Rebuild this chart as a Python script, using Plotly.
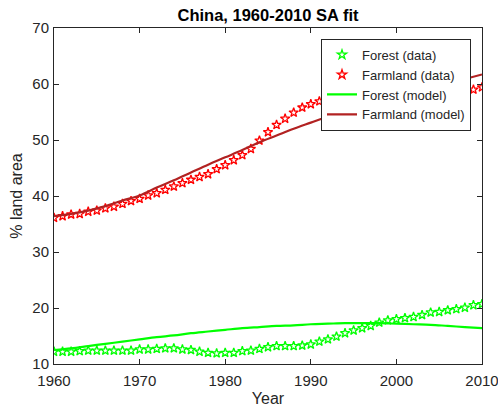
import plotly.graph_objects as go

years = list(range(1960, 2011))

forest_data = [12.2, 12.2, 12.2, 12.3, 12.4, 12.4, 12.4, 12.4, 12.4, 12.4,
               12.6, 12.6, 12.7, 12.8, 12.8, 12.6, 12.5, 12.2, 12.0, 11.9,
               12.0, 12.0, 12.3, 12.4, 12.7, 13.0, 13.2, 13.2, 13.2, 13.3,
               13.5, 14.0, 14.4, 14.9, 15.5, 16.0, 16.4, 16.8, 17.4, 17.8,
               18.0, 18.2, 18.4, 18.75, 19.2, 19.3, 19.6, 19.8, 20.05, 20.5,
               20.7]

farmland_data = [36.1, 36.4, 36.7, 36.8, 37.2, 37.4, 37.8, 38.1, 38.6, 39.1,
                 39.5, 40.1, 40.5, 41.1, 41.7, 42.3, 42.9, 43.4, 43.9, 44.8,
                 45.5, 46.4, 47.3, 48.4, 49.9, 51.4, 52.7, 53.8, 54.9, 55.8,
                 56.4, 56.9, 57.3, 57.6, 57.9, 58.1, 58.3, 58.5, 58.6, 58.7,
                 58.8, 58.8, 58.9, 58.9, 58.9, 58.9, 58.9, 58.9, 58.9, 59.0,
                 59.4]

model_years = list(range(1960, 2011, 2))
forest_model = [12.5, 12.8, 13.2, 13.6, 14.0, 14.4, 14.8, 15.1, 15.5, 15.8,
                16.1, 16.4, 16.6, 16.8, 16.9, 17.1, 17.2, 17.3, 17.3, 17.3,
                17.2, 17.1, 17.0, 16.8, 16.6, 16.4]
farmland_model = [36.4, 36.8, 37.4, 38.2, 39.2, 40.1, 41.5, 42.8, 44.2, 45.6,
                  46.9, 48.2, 49.6, 50.8, 52.0, 53.1, 54.2, 55.2, 56.1, 57.0,
                  57.8, 58.6, 59.4, 60.1, 60.9, 61.7]

x_ticks = [1960, 1970, 1980, 1990, 2000, 2010]
y_ticks = [10, 20, 30, 40, 50, 60, 70]

FONT = "Liberation Sans, Arial, Helvetica, sans-serif"
AX = "#262626"

fig = go.Figure()
fig.add_trace(go.Scatter(x=years, y=forest_data, mode="markers", name="Forest (data)",
                         marker=dict(symbol="star-open", size=7, color="#00ff00",
                                     line=dict(width=1.3, color="#00ff00"))))
fig.add_trace(go.Scatter(x=years, y=farmland_data, mode="markers", name="Farmland (data)",
                         marker=dict(symbol="star-open", size=7, color="#ff0000",
                                     line=dict(width=1.3, color="#ff0000"))))
fig.add_trace(go.Scatter(x=model_years, y=forest_model, mode="lines", name="Forest (model)",
                         line=dict(color="#00ff00", width=2.2, shape="spline")))
fig.add_trace(go.Scatter(x=model_years, y=farmland_model, mode="lines", name="Farmland (model)",
                         line=dict(color="#b22222", width=2.2, shape="spline")))

axis_common = dict(showline=True, linecolor=AX, linewidth=1, mirror="ticks",
                   ticks="inside", ticklen=5, tickcolor=AX, tickwidth=1,
                   showgrid=False, zeroline=False, ticklabeloverflow="allow",
                   automargin=False,
                   tickfont=dict(family=FONT, size=15, color=AX))

fig.update_xaxes(range=[1960, 2010], tickvals=x_ticks, ticktext=[str(v) for v in x_ticks],
                 ticklabelstandoff=3,
                 title=dict(text="Year", font=dict(family=FONT, size=16, color=AX), standoff=4),
                 **axis_common)
fig.update_yaxes(range=[10, 70], tickvals=y_ticks, ticktext=[str(v) for v in y_ticks],
                 ticklabelstandoff=1,
                 title=dict(text="% land area", font=dict(family=FONT, size=16, color=AX), standoff=5),
                 **axis_common)

fig.update_layout(
    width=498, height=413,
    margin=dict(l=54, r=16, t=28, b=49),
    paper_bgcolor="white", plot_bgcolor="white",
    title=dict(text="<b>China, 1960-2010 SA fit</b>", x=(54 + 482) / 2 / 498, xanchor="center",
               y=1 - 15 / 413, yanchor="middle",
               font=dict(family=FONT, size=16.5, color="#000000")),
    legend=dict(x=(471 - 54) / 428, y=(364 - 38.7) / 336, xanchor="right", yanchor="top",
                bgcolor="white", bordercolor=AX, borderwidth=1,
                font=dict(family=FONT, size=13, color=AX),
                tracegroupgap=0, itemwidth=30),
    showlegend=True,
)

fig.write_html("out.html")
